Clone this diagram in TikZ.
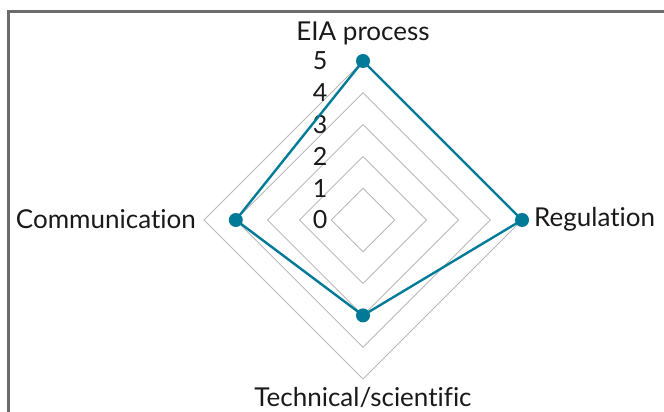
\documentclass[tikz,border=0pt]{standalone}
\usepackage{fontspec}
\setmainfont{Lato}[Ligatures={NoCommon,NoRare,NoContextual}]
\usetikzlibrary{calc}
\begin{document}
\begin{tikzpicture}[x=1pt,y=1pt,
  grid/.style={draw=black!28, line width=0.9pt},
  series/.style={draw=teal0, line width=2.4pt, line join=round},
  dot/.style={circle, fill=teal0, inner sep=0pt, minimum size=14pt},
  axlabel/.style={font=\fontsize{26}{29}\selectfont, text=black!90, inner sep=0pt},
  ticklabel/.style={font=\fontsize{25}{28}\selectfont, text=black!90, inner sep=0pt},
  frameline/.style={draw=black!58, line width=2.6pt}]
\definecolor{teal0}{RGB}{0,122,150}
\useasboundingbox (0,0) rectangle (664,412);
\draw[frameline] (8.3,-2) -- (8.3,400.5) -- (666,400.5);
\coordinate (c) at (363,192);
\def\st{31.8}
\foreach \k in {1,...,5}{
  \draw[grid] ($(c)+(0,\k*\st)$) -- ($(c)+(\k*\st,0)$) -- ($(c)+(0,-\k*\st)$) -- ($(c)+(-\k*\st,0)$) -- cycle;
}
\foreach \k in {0,...,5}{
  \node[ticklabel] (t\k) at ($(c)+(-43,\k*\st)$) {\k};
}
\coordinate (pE) at ($(c)+(0,5*\st)$);
\coordinate (pR) at ($(c)+(5*\st,0)$);
\coordinate (pT) at ($(c)+(0,-3*\st)$);
\coordinate (pC) at ($(c)+(-4*\st,0)$);
\draw[series] (pE) -- (pR) -- (pT) -- (pC) -- cycle;
\foreach \p in {pE,pR,pT,pC}{ \node[dot] (d\p) at (\p) {}; }
\node[axlabel] (lE) at (363,379) {EIA process};
\node[axlabel, anchor=west] (lR) at (534,193) {Regulation};
\node[axlabel, anchor=east] (lC) at (196,193) {Communication};
\node[axlabel, anchor=base] (lT) at (363,5) {Technical/scientific};
\end{tikzpicture}
\end{document}
